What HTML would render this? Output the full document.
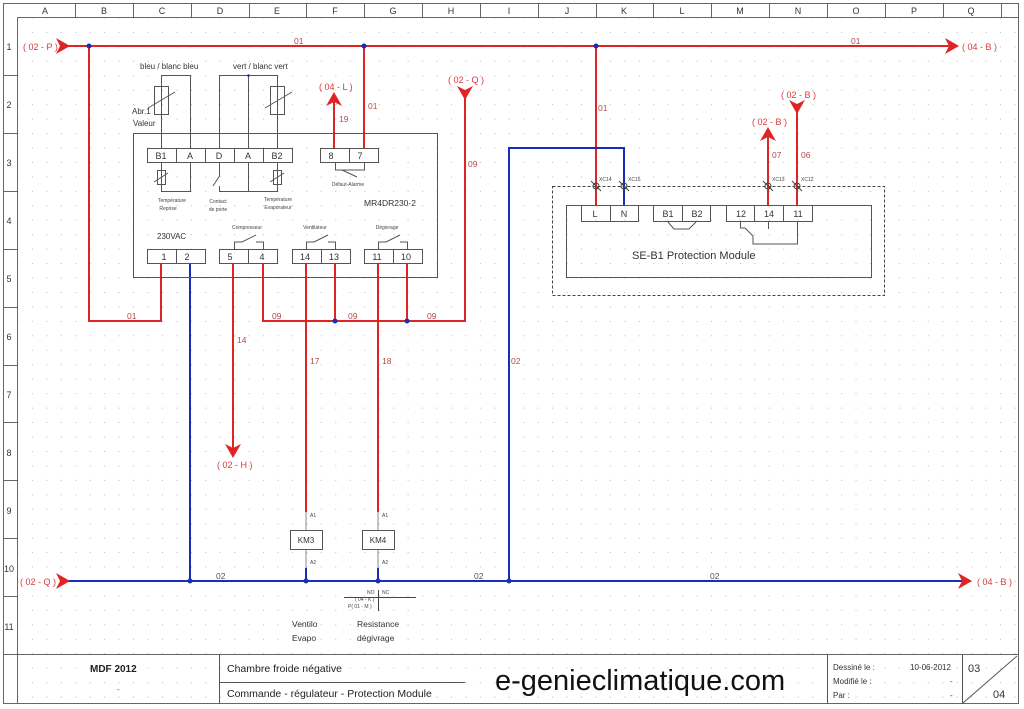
<!DOCTYPE html>
<html><head><meta charset="utf-8"><style>
html,body{margin:0;padding:0;background:#fff;}
svg{display:block;font-family:"Liberation Sans",sans-serif;}
</style></head><body>
<svg width="1024" height="709" viewBox="0 0 1024 709" xmlns="http://www.w3.org/2000/svg">
<defs>
<pattern id="dots" x="3" y="3" width="14.45" height="14.45" patternUnits="userSpaceOnUse">
<rect x="0" y="0" width="1" height="1" fill="#b8b8b8"/>
</pattern>
</defs>
<rect width="1024" height="709" fill="#fff"/>
<rect x="17" y="17" width="1001" height="687" fill="url(#dots)"/>
<g stroke="#666" fill="none" stroke-width="1">
<rect x="3.5" y="3.5" width="1015" height="700"/>
<line x1="17.5" y1="17.5" x2="1018" y2="17.5"/>
<line x1="17.5" y1="17.5" x2="17.5" y2="704"/>
<line x1="3" y1="654.5" x2="1018" y2="654.5"/>
</g>
<g stroke="#666" stroke-width="1">
<line x1="75.5" y1="3" x2="75.5" y2="17"/><line x1="133.5" y1="3" x2="133.5" y2="17"/><line x1="191.5" y1="3" x2="191.5" y2="17"/><line x1="249.5" y1="3" x2="249.5" y2="17"/><line x1="306.5" y1="3" x2="306.5" y2="17"/><line x1="364.5" y1="3" x2="364.5" y2="17"/><line x1="422.5" y1="3" x2="422.5" y2="17"/><line x1="480.5" y1="3" x2="480.5" y2="17"/><line x1="538.5" y1="3" x2="538.5" y2="17"/><line x1="596.5" y1="3" x2="596.5" y2="17"/><line x1="653.5" y1="3" x2="653.5" y2="17"/><line x1="711.5" y1="3" x2="711.5" y2="17"/><line x1="769.5" y1="3" x2="769.5" y2="17"/><line x1="827.5" y1="3" x2="827.5" y2="17"/><line x1="885.5" y1="3" x2="885.5" y2="17"/><line x1="943.5" y1="3" x2="943.5" y2="17"/><line x1="1001.5" y1="3" x2="1001.5" y2="17"/>
<line x1="3" y1="75.5" x2="17" y2="75.5"/><line x1="3" y1="133.5" x2="17" y2="133.5"/><line x1="3" y1="191.5" x2="17" y2="191.5"/><line x1="3" y1="249.5" x2="17" y2="249.5"/><line x1="3" y1="307.5" x2="17" y2="307.5"/><line x1="3" y1="365.5" x2="17" y2="365.5"/><line x1="3" y1="422.5" x2="17" y2="422.5"/><line x1="3" y1="480.5" x2="17" y2="480.5"/><line x1="3" y1="538.5" x2="17" y2="538.5"/><line x1="3" y1="596.5" x2="17" y2="596.5"/>
</g>
<g font-size="9" fill="#333" text-anchor="middle">
<text x="45" y="14">A</text><text x="104" y="14">B</text><text x="162" y="14">C</text><text x="220" y="14">D</text><text x="277" y="14">E</text><text x="335" y="14">F</text><text x="393" y="14">G</text><text x="451" y="14">H</text><text x="509" y="14">I</text><text x="567" y="14">J</text><text x="624" y="14">K</text><text x="682" y="14">L</text><text x="740" y="14">M</text><text x="798" y="14">N</text><text x="856" y="14">O</text><text x="914" y="14">P</text><text x="971" y="14">Q</text>
<text x="9" y="50">1</text><text x="9" y="108">2</text><text x="9" y="166">3</text><text x="9" y="224">4</text><text x="9" y="282">5</text><text x="9" y="340">6</text><text x="9" y="398">7</text><text x="9" y="456">8</text><text x="9" y="514">9</text><text x="9" y="572">10</text><text x="9" y="630">11</text>
</g>

<g stroke="#e02424" stroke-width="2" fill="none">
<line x1="62" y1="46" x2="950" y2="46"/>
<polyline points="89,46 89,321 161,321 161,263"/>
<line x1="364" y1="46" x2="364" y2="148"/>
<line x1="334" y1="100" x2="334" y2="148"/>
<polyline points="263,263 263,321 465,321 465,95"/>
<line x1="335" y1="263" x2="335" y2="321"/>
<line x1="407" y1="263" x2="407" y2="321"/>
<line x1="233" y1="263" x2="233" y2="448"/>
<line x1="306" y1="263" x2="306" y2="512"/>
<line x1="378" y1="263" x2="378" y2="512"/>
<line x1="596" y1="46" x2="596" y2="205"/>
<line x1="768" y1="135" x2="768" y2="205"/>
<line x1="797" y1="108" x2="797" y2="205"/>
</g>
<g stroke="#1a2db8" stroke-width="2" fill="none">
<line x1="190" y1="263" x2="190" y2="581"/>
<line x1="62" y1="581" x2="965" y2="581"/>
<polyline points="509,581 509,148 624,148 624,205"/>
<line x1="306" y1="568" x2="306" y2="581"/>
<line x1="378" y1="568" x2="378" y2="581"/>
</g>
<g stroke="#888" stroke-width="1">
<line x1="306" y1="512" x2="306" y2="568"/><line x1="378" y1="512" x2="378" y2="568"/>
</g>
<g fill="#e02424">
<path d="M56,38 L70,46 L56,54 L60,46Z"/>
<path d="M945,38 L959,46 L945,54 L949,46Z"/>
<path d="M56,573 L70,581 L56,589 L60,581Z"/>
<path d="M958,573 L972,581 L958,589 L962,581Z"/>
<path d="M326,106 L334,92 L342,106 L334,102Z"/>
<path d="M457,86 L465,100 L473,86 L465,90Z"/>
<path d="M225,444 L233,458 L241,444 L233,448Z"/>
<path d="M760,141 L768,127 L776,141 L768,137Z"/>
<path d="M789,100 L797,114 L805,100 L797,104Z"/>
</g>
<g fill="#1a2db8">
<circle cx="89" cy="46" r="2.5"/><circle cx="364" cy="46" r="2.5"/><circle cx="596" cy="46" r="2.5"/>
<circle cx="335" cy="321" r="2.5"/><circle cx="407" cy="321" r="2.5"/>
<circle cx="190" cy="581" r="2.5"/><circle cx="306" cy="581" r="2.5"/><circle cx="378" cy="581" r="2.5"/><circle cx="509" cy="581" r="2.5"/>
</g>
<g fill="#d83a3a" font-size="9">
<text x="23" y="50">( 02 - P )</text>
<text x="962" y="50">( 04 - B )</text>
<text x="20" y="585">( 02 - Q )</text>
<text x="977" y="585">( 04 - B )</text>
<text x="319" y="90">( 04 - L )</text>
<text x="448" y="83">( 02 - Q )</text>
<text x="217" y="468">( 02 - H )</text>
<text x="752" y="125">( 02 - B )</text>
<text x="781" y="98">( 02 - B )</text>
</g>
<g fill="#b04a4a" font-size="8.5">
<text x="294" y="44">01</text><text x="851" y="44">01</text>
<text x="368" y="109">01</text><text x="339" y="122">19</text><text x="468" y="167">09</text>
<text x="598" y="111">01</text><text x="772" y="158">07</text><text x="801" y="158">06</text>
<text x="127" y="319">01</text><text x="272" y="319">09</text><text x="348" y="319">09</text><text x="427" y="319">09</text>
<text x="237" y="343">14</text><text x="310" y="364">17</text><text x="382" y="364">18</text><text x="511" y="364">02</text>
</g>
<g fill="#555" font-size="8.5">
<text x="216" y="579">02</text><text x="474" y="579">02</text><text x="710" y="579">02</text>
</g>

<g stroke="#555" stroke-width="1" fill="none">
<rect x="133.5" y="133.5" width="304" height="144"/>
<rect x="147.5" y="148.5" width="145" height="14"/>
<line x1="176.5" y1="148" x2="176.5" y2="163"/><line x1="205.5" y1="148" x2="205.5" y2="163"/><line x1="234.5" y1="148" x2="234.5" y2="163"/><line x1="263.5" y1="148" x2="263.5" y2="163"/>
<rect x="320.5" y="148.5" width="58" height="14"/><line x1="349.5" y1="148" x2="349.5" y2="163"/>
<rect x="147.5" y="249.5" width="58" height="14"/><line x1="176.5" y1="249" x2="176.5" y2="264"/>
<rect x="219.5" y="249.5" width="58" height="14"/><line x1="248.5" y1="249" x2="248.5" y2="264"/>
<rect x="292.5" y="249.5" width="58" height="14"/><line x1="321.5" y1="249" x2="321.5" y2="264"/>
<rect x="364.5" y="249.5" width="58" height="14"/><line x1="393.5" y1="249" x2="393.5" y2="264"/>
<polyline points="161.5,148 161.5,75.5 190.5,75.5 190.5,148"/>
<rect x="154.5" y="86.5" width="14" height="28"/><line x1="148" y1="108" x2="175" y2="92"/>
<polyline points="219.5,148 219.5,75.5 277.5,75.5 277.5,148"/>
<line x1="248.5" y1="75" x2="248.5" y2="148"/>
<rect x="270.5" y="86.5" width="14" height="28"/><line x1="265" y1="108" x2="292" y2="92"/>
<polyline points="161.5,163 161.5,191.5 190.5,191.5 190.5,163"/>
<rect x="157.5" y="170.5" width="8" height="14"/><line x1="154" y1="182" x2="168" y2="173"/>
<polyline points="219.5,163 219.5,176 213,186"/>
<polyline points="219.5,186 219.5,191.5 277.5,191.5 277.5,163"/>
<line x1="248.5" y1="163" x2="248.5" y2="191"/>
<rect x="273.5" y="170.5" width="8" height="14"/><line x1="270" y1="182" x2="284" y2="173"/>
<polyline points="335.5,163 335.5,170 364.5,170 364.5,163"/><line x1="342" y1="170" x2="357" y2="177"/>
<polyline points="234.5,249 234.5,242 242,242 256,235"/><polyline points="256,242 263.5,242 263.5,249"/>
<polyline points="306.5,249 306.5,242 314,242 328,235"/><polyline points="328,242 335.5,242 335.5,249"/>
<polyline points="378.5,249 378.5,242 386,242 400,235"/><polyline points="400,242 407.5,242 407.5,249"/>
</g>
<circle cx="248.5" cy="75.5" r="1.3" fill="#1a2db8"/>
<g fill="#333" font-size="9" text-anchor="middle">
<text x="161" y="159">B1</text><text x="190" y="159">A</text><text x="219" y="159">D</text><text x="248" y="159">A</text><text x="277" y="159">B2</text>
<text x="331" y="159">8</text><text x="360" y="159">7</text>
<text x="164" y="260">1</text><text x="187" y="260">2</text><text x="230" y="260">5</text><text x="262" y="260">4</text>
<text x="305" y="260">14</text><text x="334" y="260">13</text><text x="377" y="260">11</text><text x="406" y="260">10</text>
</g>
<g fill="#333" font-size="8">
<text x="140" y="69">bleu / blanc bleu</text><text x="233" y="69">vert / blanc vert</text>
<text x="132" y="114">Abr.1</text><text x="133" y="126">Valeur</text>
<text x="157" y="239">230VAC</text>
<text x="364" y="206" font-size="8.5">MR4DR230-2</text>
</g>
<g fill="#444" font-size="5" text-anchor="middle">
<text x="172" y="202">Température</text><text x="168" y="210">Reprise</text>
<text x="218" y="203">Contact</text><text x="218" y="211">de porte</text>
<text x="278" y="201">Température</text><text x="278" y="209">Evaporateur</text>
<text x="348" y="186">Défaut-Alarme</text>
<text x="247" y="229">Compresseur</text><text x="315" y="229">Ventilateur</text><text x="387" y="229">Dégivrage</text>
</g>

<g stroke="#555" fill="#fff">
<rect x="290.5" y="530.5" width="32" height="19"/><rect x="362.5" y="530.5" width="32" height="19"/>
</g>
<g fill="#333" font-size="8" text-anchor="middle">
<text x="306" y="543">KM3</text><text x="378" y="543">KM4</text>
</g>
<g fill="#444" font-size="5">
<text x="310" y="517">A1</text><text x="382" y="517">A1</text><text x="310" y="564">A2</text><text x="382" y="564">A2</text>
<text x="367" y="594">NO</text><text x="382" y="594">NC</text>
<text x="355" y="601">( 04 - K )</text><text x="348" y="608">P( 01 - M )</text>
</g>
<g stroke="#444"><line x1="344" y1="597.5" x2="416" y2="597.5"/><line x1="378.5" y1="590" x2="378.5" y2="611"/></g>
<g fill="#333" font-size="8.5">
<text x="292" y="627">Ventilo</text><text x="292" y="641">Evapo</text>
<text x="357" y="627">Resistance</text><text x="357" y="641">dégivrage</text>
</g>

<rect x="552.5" y="186.5" width="332" height="109" fill="none" stroke="#444" stroke-dasharray="3,2"/>
<g stroke="#555" fill="none">
<rect x="566.5" y="205.5" width="305" height="72"/>
<rect x="581.5" y="205.5" width="57" height="16"/><line x1="610.5" y1="205" x2="610.5" y2="222"/>
<rect x="653.5" y="205.5" width="57" height="16"/><line x1="682.5" y1="205" x2="682.5" y2="222"/>
<rect x="726.5" y="205.5" width="86" height="16"/><line x1="754.5" y1="205" x2="754.5" y2="222"/><line x1="783.5" y1="205" x2="783.5" y2="222"/>
<polyline points="668,222 674,229 689,229 696,222"/>
<polyline points="740.5,222 740.5,228 745,228 753,236 753,244 797.5,244 797.5,222"/>
<line x1="768.5" y1="222" x2="768.5" y2="229"/>
</g>
<g stroke="#444" fill="none">
<circle cx="596" cy="186" r="3"/><line x1="591" y1="181" x2="601" y2="191"/>
<circle cx="624" cy="186" r="3"/><line x1="619" y1="181" x2="629" y2="191"/>
<circle cx="768" cy="186" r="3"/><line x1="763" y1="181" x2="773" y2="191"/>
<circle cx="797" cy="186" r="3"/><line x1="792" y1="181" x2="802" y2="191"/>
</g>
<g fill="#444" font-size="5">
<text x="599" y="181">XC14</text><text x="628" y="181">XC15</text><text x="772" y="181">XC13</text><text x="801" y="181">XC12</text>
</g>
<g fill="#333" font-size="9" text-anchor="middle">
<text x="595" y="217">L</text><text x="624" y="217">N</text><text x="668" y="217">B1</text><text x="697" y="217">B2</text>
<text x="741" y="217">12</text><text x="769" y="217">14</text><text x="798" y="217">11</text>
</g>
<text x="632" y="259" font-size="11" fill="#333">SE-B1 Protection Module</text>

<g stroke="#555" fill="none">
<line x1="219.5" y1="655" x2="219.5" y2="704"/>
<line x1="219" y1="682.5" x2="465" y2="682.5"/>
<line x1="827.5" y1="655" x2="827.5" y2="704"/>
<line x1="962.5" y1="655" x2="962.5" y2="704"/>
<line x1="963" y1="703" x2="1017" y2="656"/>
</g>
<text x="90" y="672" font-size="10" font-weight="bold" fill="#222">MDF 2012</text>
<text x="117" y="692" font-size="8" fill="#555">-</text>
<text x="227" y="672" font-size="10.5" fill="#222">Chambre froide négative</text>
<text x="227" y="697" font-size="10.5" fill="#222">Commande - régulateur - Protection Module</text>
<text x="495" y="690" font-size="29" fill="#111">e-genieclimatique.com</text>
<g font-size="8" fill="#333">
<text x="833" y="670">Dessiné le :</text><text x="910" y="670">10-06-2012</text>
<text x="833" y="684">Modifié le :</text><text x="950" y="684">-</text>
<text x="833" y="698">Par :</text><text x="950" y="698">-</text>
</g>
<text x="968" y="672" font-size="11" fill="#333">03</text>
<text x="993" y="698" font-size="11" fill="#333">04</text>
</svg>
</body></html>
